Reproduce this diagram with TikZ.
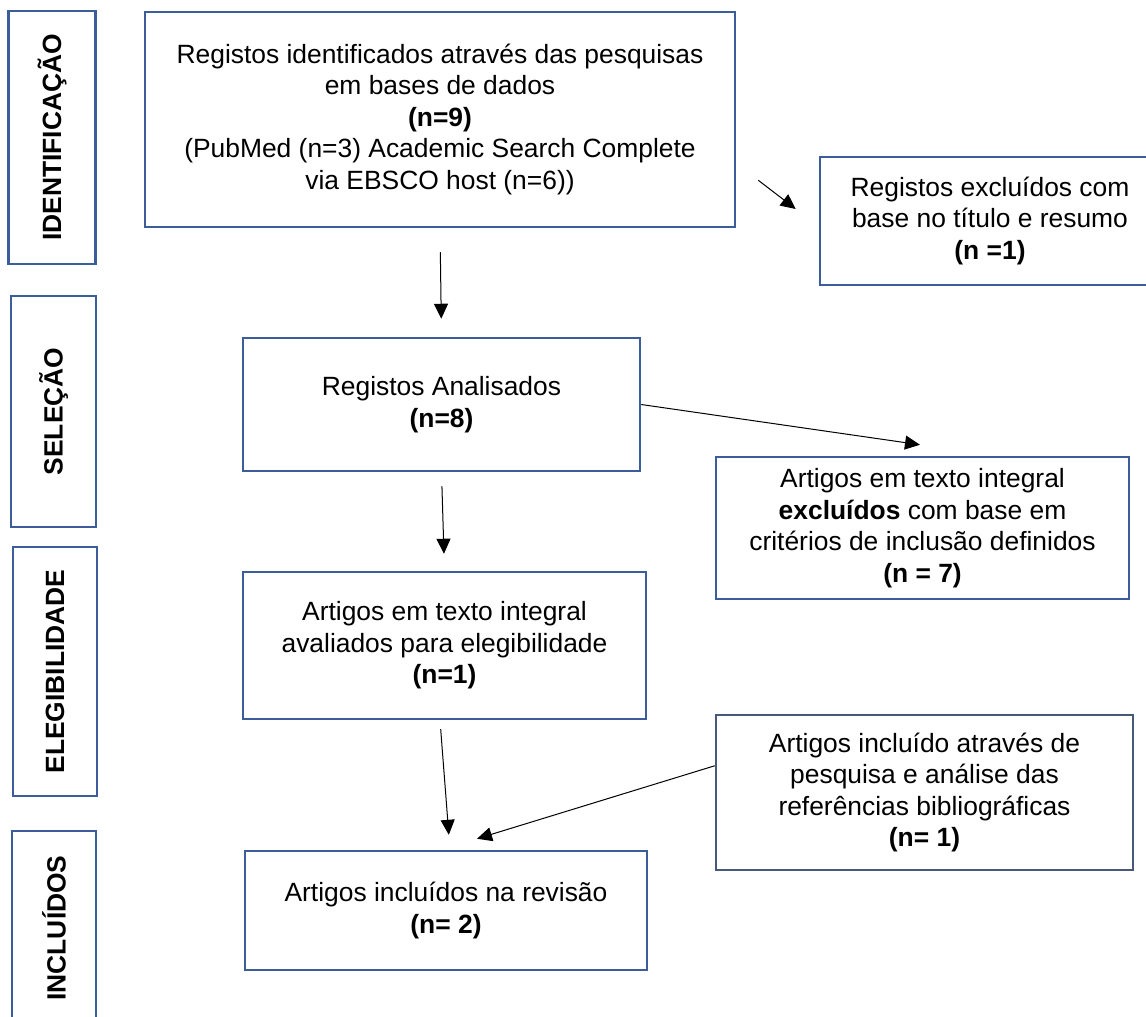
\documentclass[tikz,border=0pt]{standalone}
\usepackage{fontspec}
\setmainfont{Liberation Sans}
\usetikzlibrary{arrows.meta,calc}
\definecolor{boxblue}{RGB}{59,94,154}
\definecolor{boxslate}{RGB}{72,88,120}
\newcommand{\fsz}{\fontsize{26.4}{31.5}\selectfont}
\begin{document}
\begin{tikzpicture}[x=1pt,y=-1pt,
  box/.style={rectangle, draw=boxblue, line width=2.5pt, align=center, inner sep=0pt, font=\fsz},
  stage/.style={box, rotate=90, font=\fsz\bfseries},
  arr/.style={-{Triangle[length=15pt,width=14pt]}, line width=1pt}]
\useasboundingbox (0,0) rectangle (1146,1017);
\clip (0,0) rectangle (1146,1017);
\fill[white] (0,0) rectangle (1146,1017);

% stage labels
\node[stage, minimum width=253pt, minimum height=87pt] (sIdent) at (52,137.5) {IDENTIFICAÇÃO};
\node[stage, minimum width=231pt, minimum height=85pt] (sSel) at (53.5,411.5) {SELEÇÃO};
\node[stage, minimum width=249pt, minimum height=84pt] (sEleg) at (55,671.5) {ELEGIBILIDADE};
\node[stage, minimum width=194pt, minimum height=84pt] (sIncl) at (54,928) {INCLUÍDOS};

% flow boxes
\node[box, minimum width=590pt, minimum height=215pt] (box1) at (440,119.5)
  {Registos identificados através das pesquisas\\ em bases de dados\\ \textbf{(n=9)}\\ (PubMed (n=3) Academic Search Complete\\ via EBSCO host (n=6))};
\node[box, minimum width=340pt, minimum height=128pt] (excl1) at (990,221)
  {Registos excluídos com\\ base no título e resumo\\ \textbf{(n =1)}};
\node[box, minimum width=397pt, minimum height=133pt] (analis) at (441.5,404.5)
  {Registos Analisados\\ \textbf{(n=8)}};
\node[box, minimum width=413pt, minimum height=142pt] (excl2) at (922.5,528)
  {Artigos em texto integral\\ \textbf{excluídos} com base em\\ critérios de inclusão definidos\\ \textbf{(n = 7)}};
\node[box, minimum width=403pt, minimum height=147pt] (elegb) at (444.5,645.5)
  {Artigos em texto integral\\ avaliados para elegibilidade\\ \textbf{(n=1)}};
\node[box, draw=boxslate, minimum width=417pt, minimum height=155pt] (extra) at (924.5,792.5)
  {Artigos incluído através de\\ pesquisa e análise das\\ referências bibliográficas\\ \textbf{(n= 1)}};
\node[box, minimum width=402pt, minimum height=119pt] (inclb) at (446,910.5)
  {Artigos incluídos na revisão\\ \textbf{(n= 2)}};

% connectors
\draw[arr] ($(box1.south east)+(22,-48)$) -- ($(excl1.west)+(-23,-12)$);
\draw[arr, shorten <=24pt, shorten >=18pt] (box1.south) -- (analis.north);
\draw[arr] (analis.east) -- ($(excl2.north)+(-2.5,-11)$);
\draw[arr, shorten <=14pt, shorten >=17pt] (analis.south) -- (elegb.north);
\draw[arr, shorten <=9pt, shorten >=15pt] ($(elegb.south)+(-4.5,0)$) -- ($(inclb.north)+(4,0)$);
\draw[arr] ($(extra.north west)+(0,52)$) -- ($(inclb.north)+(31,-11)$);
\end{tikzpicture}
\end{document}
